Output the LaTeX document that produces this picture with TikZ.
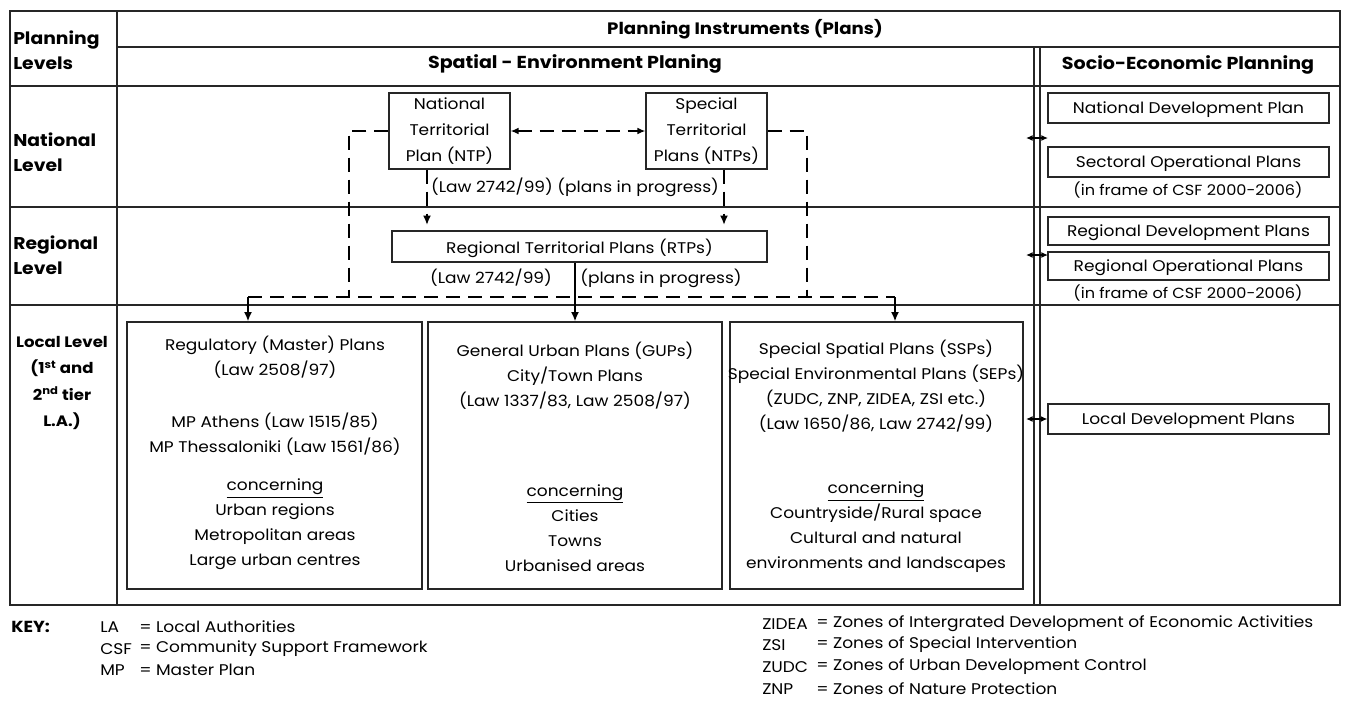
\documentclass[tikz,border=0pt]{standalone}
\usepackage{fontspec}
\setmainfont{Poppins}[FakeStretch=1.1]
\usetikzlibrary{arrows.meta,fit}
\begin{document}
\begin{tikzpicture}[x=0.75pt,y=-0.75pt,
  grid/.style={draw=black!85, line width=0.9pt},
  box/.style={draw=black!85, line width=0.8pt, inner sep=0pt},
  body/.style={font=\fontsize{11.6}{18.75}\selectfont, align=center, inner sep=0pt},
  boxtxt/.style={body, yshift=-1.5pt},
  tight/.style={font=\fontsize{11.6}{19.5}\selectfont, align=center, inner sep=0pt},
  small/.style={font=\fontsize{11}{12}\selectfont, inner sep=0pt},
  head/.style={font=\fontsize{13}{18.75}\selectfont\bfseries, inner sep=0pt},
  lvl/.style={font=\fontsize{12.8}{18.75}\selectfont\bfseries, inner sep=0pt, anchor=west, align=left},
  keytxt/.style={font=\fontsize{11.6}{14}\selectfont, inner sep=0pt, anchor=west},
  dashlink/.style={line width=1.6pt, dash pattern=on 10.5pt off 6pt},
  tipdown/.style={line width=1.4pt, -{Latex[length=7pt,width=6pt]}},
  twoway/.style={line width=1.1pt, {Latex[length=5pt,width=4.5pt]}-{Latex[length=5pt,width=4.5pt]}},
]
\useasboundingbox (0,0) rectangle (1346,701);

% table frame
\draw[grid] (10,11) rectangle (1340,605);
\draw[grid] (117,11) -- (117,605);
\draw[grid] (117,47) -- (1340,47);
\draw[grid] (10,86) -- (1340,86);
\draw[grid] (10,207) -- (1340,207);
\draw[grid] (10,305) -- (1340,305);
\draw[grid] (1034,47) -- (1034,605);
\draw[grid] (1040,47) -- (1040,605);

% headings
\node[head, font=\fontsize{12.4}{18.75}\selectfont\bfseries] (hplan) at (745,29) {Planning Instruments (Plans)};
\node[head] (hspat) at (575,64) {Spatial - Environment Planing};
\node[head] (hsoc) at (1188,65) {Socio-Economic Planning};

% level labels
\node[lvl] (lvlhead) at (13,50.5) {Planning\\Levels};
\node[lvl] (lvlnat) at (13,152.5) {National\\Level};
\node[lvl] (lvlreg) at (13,255.5) {Regional\\Level};
\node[align=center, inner sep=0pt, font=\fontsize{11.3}{19.7}\selectfont\bfseries] (lvlloc) at (62,383) {Local Level\\(1\textsuperscript{st} and\\2\textsuperscript{nd} tier\\L.A.)};

% national level
\node[box, fit={(389,93) (510,169)}] (ntp) {};
\node[tight] (ntptxt) at (ntp.center) {National\\Territorial\\Plan (NTP)};
\node[box, fit={(646,93) (767,169)}] (stp) {};
\node[tight] (stptxt) at (stp.center) {Special\\Territorial\\Plans (NTPs)};
\node[body] (lawnat) at (575,187) {(Law 2742/99) (plans in progress)};

% regional level
\node[box, fit={(392,231) (767,262)}] (rtp) {};
\node[boxtxt] (rtptxt) at (rtp.center) {Regional Territorial Plans (RTPs)};
\node[body] (lawreg1) at (491,278) {(Law 2742/99)};
\node[body] (lawreg2) at (661,278) {(plans in progress)};

% local level
\node[box, fit={(127,322) (422,589)}] (reg) {};
\node[box, fit={(428,322) (722,589)}] (gup) {};
\node[box, fit={(730,322) (1023,589)}] (ssp) {};

\node[body] (reg1) at (275,357.5) {Regulatory (Master) Plans\\(Law 2508/97)};
\node[body] (reg2) at (275,434.5) {MP Athens (Law 1515/85)\\MP Thessaloniki (Law 1561/86)};
\node[body] (reg3) at (275,524.5) {\underline{concerning}\\Urban regions\\Metropolitan areas\\Large urban centres};

\node[body] (gup1) at (575,376) {General Urban Plans (GUPs)\\City/Town Plans\\(Law 1337/83, Law 2508/97)};
\node[body] (gup2) at (575,528) {\underline{concerning}\\Cities\\Towns\\Urbanised areas};

\node[body] (ssp1) at (876,386.5) {Special Spatial Plans (SSPs)\\Special Environmental Plans (SEPs)\\(ZUDC, ZNP, ZIDEA, ZSI etc.)\\(Law 1650/86, Law 2742/99)};
\node[body] (ssp2) at (876,527.5) {\underline{concerning}\\Countryside/Rural space\\Cultural and natural\\environments and landscapes};

% socio-economic planning
\node[box, fit={(1048,93) (1329,123)}] (ndp) {};
\node[boxtxt] (ndptxt) at (ndp.center) {National Development Plan};
\node[box, fit={(1048,147) (1329,177)}] (sop) {};
\node[boxtxt] (soptxt) at (sop.center) {Sectoral Operational Plans};
\node[small] (csf1) at (1188,190) {(in frame of CSF 2000-2006)};
\node[box, fit={(1048,217) (1329,245)}] (rdp) {};
\node[boxtxt] (rdptxt) at (rdp.center) {Regional Development Plans};
\node[box, fit={(1048,252) (1329,280)}] (rop) {};
\node[boxtxt] (roptxt) at (rop.center) {Regional Operational Plans};
\node[small] (csf2) at (1188,293) {(in frame of CSF 2000-2006)};
\node[box, fit={(1048,404) (1329,434)}] (ldp) {};
\node[boxtxt] (ldptxt) at (ldp.center) {Local Development Plans};

% links between plans
\coordinate (lcorner) at (349,297);
\coordinate (rcorner) at (807,297);
\coordinate (bl) at (248,297);
\coordinate (br) at (895,297);
\coordinate (ntpdown) at (427,225);
\coordinate (stpdown) at (724,225);

\draw[dashlink, {Latex[length=6pt,width=5pt]}-{Latex[length=6pt,width=5pt]}] (ntp.east) -- (stp.west);
\draw[dashlink] (ntp.west) -| (lcorner);
\draw[dashlink] (stp.east) -| (rcorner);
\draw[dashlink] (bl) -- (br);
\draw[tipdown] (bl) -- (bl |- reg.north);
\draw[tipdown] (br) -- (br |- ssp.north);
\draw[dashlink, -{Latex[length=7pt,width=6pt]}] (ntpdown |- ntp.south) -- (ntpdown);
\draw[dashlink, -{Latex[length=7pt,width=6pt]}] (stpdown |- stp.south) -- (stpdown);
\draw[tipdown] (rtp.south -| gup.north) -- (gup.north);

% links to socio-economic planning
\coordinate (natl) at (1026,138);
\coordinate (natr) at (1048,138);
\coordinate (regl) at (1026,255);
\coordinate (regr) at (1048,255);
\coordinate (locl) at (1026,419);
\draw[twoway] (natl) -- (natr);
\draw[twoway] (regl) -- (regr);
\draw[twoway] (locl) -- (ldp.west);

% key
\node[inner sep=0pt, anchor=west, font=\fontsize{12}{14}\selectfont\bfseries] (key) at (11,627) {KEY:};
\node[keytxt] (kla) at (100,627) {LA};
\node[keytxt] (kcsf) at (100,649) {CSF};
\node[keytxt] (kmp) at (100,670) {MP};
\node[keytxt] (kla2) at (139,627) {= Local Authorities};
\node[keytxt] (kcsf2) at (139,649) {= Community Support Framework};
\node[keytxt] (kmp2) at (139,670) {= Master Plan};
\node[keytxt] (kz1) at (762,624) {ZIDEA};
\node[keytxt] (kz2) at (762,645) {ZSI};
\node[keytxt] (kz3) at (762,667) {ZUDC};
\node[keytxt] (kz4) at (762,689) {ZNP};
\node[keytxt] (kz1b) at (816,624) {= Zones of Intergrated Development of Economic Activities};
\node[keytxt] (kz2b) at (816,645) {= Zones of Special Intervention};
\node[keytxt] (kz3b) at (816,667) {= Zones of Urban Development Control};
\node[keytxt] (kz4b) at (816,689) {= Zones of Nature Protection};
\end{tikzpicture}
\end{document}
